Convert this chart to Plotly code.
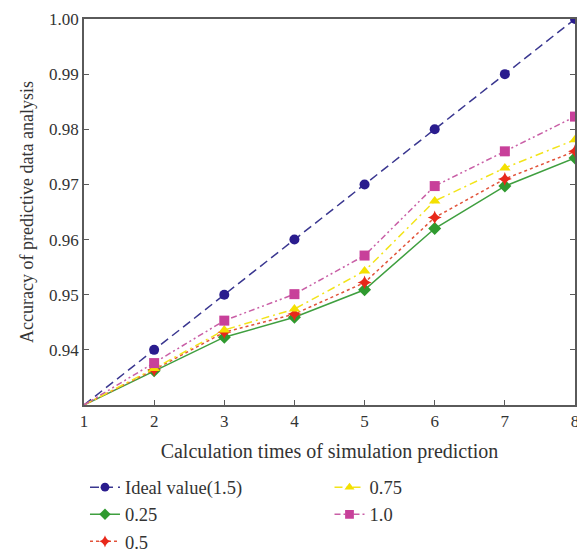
import plotly.graph_objects as go

# x axis: number of calculation times
calc_times = [1, 2, 3, 4, 5, 6, 7, 8]

# accuracy per setting
ideal_values = [0.930, 0.940, 0.950, 0.960, 0.970, 0.980, 0.990, 1.000]
acc_025 = [0.930, 0.9362, 0.9423, 0.9459, 0.9509, 0.9620, 0.9697, 0.9748]
acc_05 = [0.930, 0.9364, 0.9432, 0.9465, 0.9522, 0.9640, 0.9710, 0.9760]
acc_075 = [0.930, 0.9366, 0.9436, 0.9474, 0.9543, 0.9670, 0.9730, 0.9781]
acc_10 = [0.930, 0.9376, 0.9453, 0.9501, 0.9571, 0.9697, 0.9760, 0.9823]

y_ticks = [0.94, 0.95, 0.96, 0.97, 0.98, 0.99, 1.00]

FONT = "Liberation Serif"
AXIS_COLOR = "#5a5a5a"

# no marker on the shared starting point
sizes = [0] + [10] * 7

series = [
    ("Ideal value(1.5)", ideal_values, "#3a3790", "#2a1c8e", "circle", "9px,5px", "legend"),
    ("0.25", acc_025, "#3f9f3f", "#2f9a2f", "diamond", "solid", "legend"),
    ("0.5", acc_05, "#e2533a", "#e8281a", "star-diamond", "dot", "legend"),
    ("0.75", acc_075, "#f2e41a", "#f4e000", "triangle-up", "8px,4px,2px,4px", "legend2"),
    ("1.0", acc_10, "#c95fa6", "#c8409a", "square", "6px,3px,2px,3px,2px,3px", "legend2"),
]

fig = go.Figure()
for name, vals, line_col, mk_col, symbol, dash, leg in series:
    fig.add_trace(go.Scatter(
        x=calc_times, y=vals, name=name, mode="lines+markers",
        line=dict(color=line_col, width=1.5, dash=dash),
        marker=dict(color=mk_col, symbol=symbol, size=sizes, opacity=1,
                    line=dict(width=0)),
        legend=leg, legendgroup=name,
    ))

fig.update_layout(
    width=577, height=556,
    margin=dict(l=84, r=2, t=19, b=151, autoexpand=False),
    plot_bgcolor="white", paper_bgcolor="white",
    font=dict(family=FONT, size=17, color="#333333"),
    legend=dict(x=0.002, y=-0.165, xanchor="left", yanchor="top",
                font=dict(size=18.5), tracegroupgap=0, itemwidth=30),
    legend2=dict(x=0.50, y=-0.165, xanchor="left", yanchor="top",
                 font=dict(size=18.5), tracegroupgap=0, itemwidth=30),
)

fig.update_xaxes(
    range=[1, 8], tickvals=calc_times, showgrid=False, zeroline=False,
    showline=True, linecolor=AXIS_COLOR, linewidth=1.5, mirror=True,
    ticks="inside", ticklen=5, tickcolor=AXIS_COLOR, ticklabeloverflow="allow",
    title=dict(text="Calculation times of simulation prediction", standoff=14),
)
fig.update_yaxes(
    range=[0.93, 1.0], tickvals=y_ticks, tickformat=".2f", showgrid=False,
    zeroline=False, showline=True, linecolor=AXIS_COLOR, linewidth=1.5,
    mirror="ticks", ticks="inside", ticklen=5, tickcolor=AXIS_COLOR,
    title=dict(text="Accuracy of predictive data analysis", font=dict(size=18), standoff=11),
)

# drop the default page margin so the figure sits at the window's corner
fig.write_html("out.html", config={"displayModeBar": False},
               post_script="document.body.style.margin='0';")
